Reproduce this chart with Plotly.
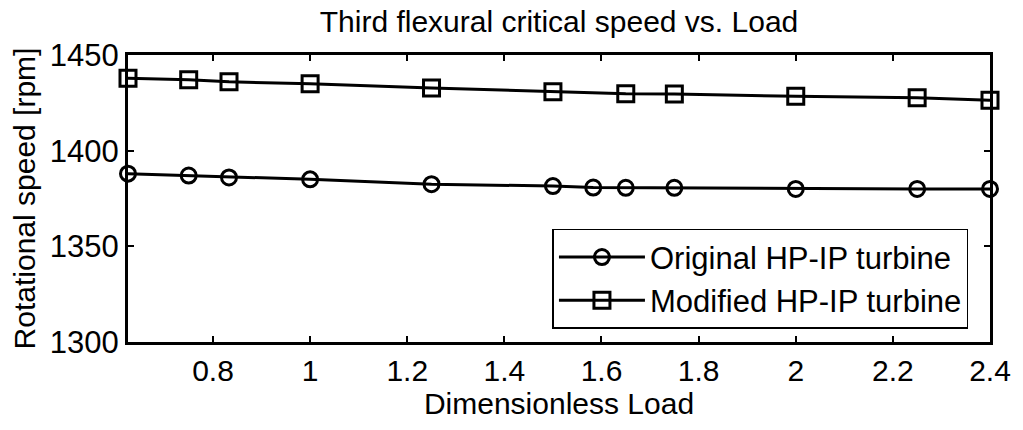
import plotly.graph_objects as go

# Data
x_orig = [0.625, 0.75, 0.833, 1.0, 1.25, 1.5, 1.583, 1.65, 1.75, 2.0, 2.25, 2.4]
y_orig = [1388, 1387, 1386, 1385, 1382.5, 1381.5, 1380.7, 1380.6, 1380.6, 1380, 1380, 1380]

x_mod = [0.625, 0.75, 0.833, 1.0, 1.25, 1.5, 1.65, 1.75, 2.0, 2.25, 2.4]
y_mod = [1437.8, 1437, 1436, 1435, 1432.8, 1430.8, 1429.7, 1429.6, 1428.4, 1427.7, 1426.3]

x_ticks = [0.8, 1.0, 1.2, 1.4, 1.6, 1.8, 2.0, 2.2, 2.4]
x_ticktext = ["0.8", "1", "1.2", "1.4", "1.6", "1.8", "2", "2.2", "2.4"]
y_ticks = [1300, 1350, 1400, 1450]

FONT = "Liberation Sans, Arial, sans-serif"

fig = go.Figure()
fig.add_trace(go.Scatter(
    x=x_orig, y=y_orig, mode="lines+markers", name="Original HP-IP turbine",
    line=dict(color="black", width=3),
    marker=dict(symbol="circle-open", size=15, color="black", line=dict(width=3)),
    cliponaxis=False,
))
fig.add_trace(go.Scatter(
    x=x_mod, y=y_mod, mode="lines+markers", name="Modified HP-IP turbine",
    line=dict(color="black", width=3),
    marker=dict(symbol="square-open", size=16, color="black", line=dict(width=3)),
    cliponaxis=False,
))

fig.update_layout(
    width=1023, height=430,
    margin=dict(l=128, r=26, t=55, b=88),
    paper_bgcolor="white", plot_bgcolor="white",
    font=dict(family=FONT, size=30, color="black"),
    title=dict(text="Third flexural critical speed vs. Load", xref="paper", x=0.5,
               xanchor="center", y=0.949, yanchor="middle",
               font=dict(size=30, color="black")),
    xaxis=dict(range=[0.625, 2.4], tickvals=x_ticks, ticktext=x_ticktext,
               showline=True, linecolor="black", linewidth=3, mirror="ticks",
               ticks="inside", ticklen=6, tickwidth=2, tickcolor="black",
               showgrid=False, zeroline=False, tickfont=dict(size=30),
               title=dict(text="Dimensionless Load", standoff=6, font=dict(size=30))),
    yaxis=dict(range=[1300, 1450], tickvals=y_ticks,
               showline=True, linecolor="black", linewidth=3, mirror="ticks",
               ticks="inside", ticklen=6, tickwidth=2, tickcolor="black",
               showgrid=False, zeroline=False, tickfont=dict(size=31),
               title=dict(text="Rotational speed [rpm]", standoff=6, font=dict(size=30))),
    legend=dict(x=0.975, xanchor="right", y=0.394, yanchor="top",
                bgcolor="white", bordercolor="black", borderwidth=1.5,
                font=dict(size=31), tracegroupgap=0, itemwidth=86),
    showlegend=True,
)

fig.write_html("out.html")
